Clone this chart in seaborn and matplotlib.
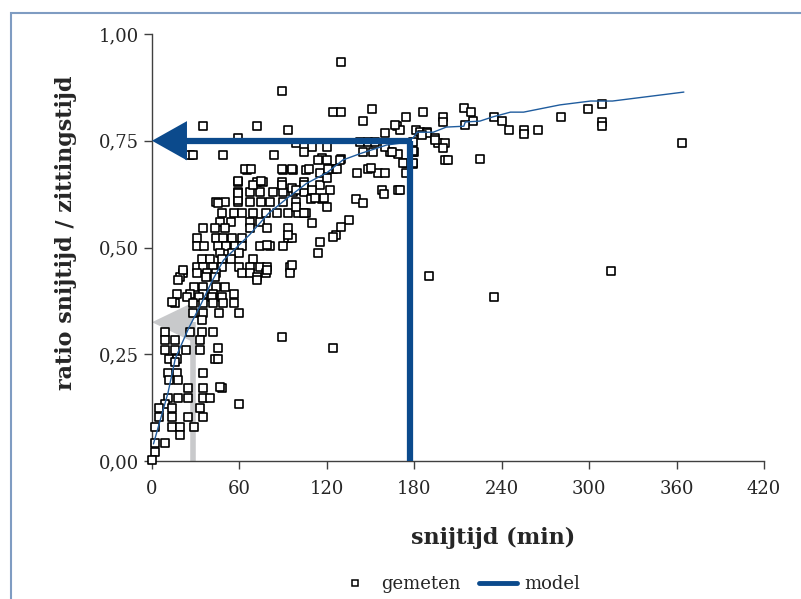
import numpy as np
import pandas as pd
import matplotlib.pyplot as plt
import seaborn as sns
from matplotlib.lines import Line2D
from matplotlib.patches import Rectangle

# measured points (snijtijd in min, ratio snijtijd / zittingstijd), read per row
rows = {
    0.681: [65, 90, 97, 106],
    0.653: [59, 72, 76, 89, 104],
    0.630: [59, 67, 74, 83, 90, 97, 104],
    0.607: [44, 50, 59, 67, 75, 81, 90, 99],
    0.580: [48, 56, 62, 69, 78, 86, 93, 100, 106],
    0.560: [47, 54, 67, 74],
    0.545: [35, 43, 50, 67, 79, 93],
    0.522: [31, 44, 49, 55, 62, 93, 96],
    0.504: [31, 36, 45, 51, 57, 62, 74, 81, 90],
    0.487: [47, 55, 60],
    0.473: [34, 40, 48, 54, 69],
    0.455: [31, 35, 42, 48, 60, 67, 74, 79, 95],
    0.440: [21, 31, 38, 44, 62, 67, 78, 95],
    0.430: [19, 37, 43, 72],
    0.408: [29, 35, 44, 50],
    0.390: [17, 26, 35, 42, 56],
    0.385: [24, 32, 41, 48],
    0.370: [16, 28, 35, 42, 49, 56],
    0.347: [28, 35, 46, 60],
    0.330: [34],
    0.302: [9, 26, 34, 42],
    0.283: [9, 16, 33],
    0.260: [9, 16, 23, 33],
    0.240: [12, 17, 43],
    0.232: [16],
    0.206: [11, 17, 35],
    0.190: [12, 18],
    0.170: [25, 35, 48],
    0.147: [11, 18, 25, 35, 40],
    0.133: [9, 60],
    0.124: [5, 14, 33],
    0.103: [5, 14, 25, 35],
    0.080: [2, 14, 19, 29],
    0.060: [19],
    0.042: [2, 9],
    0.021: [2],
    0.002: [0],
}

extra_t = [130, 89, 124, 130, 151, 35, 72, 93, 145, 174, 186, 59, 26, 28, 49, 84,
           99, 110, 104, 120, 117, 130, 143, 148, 153, 160, 168, 170, 145, 152, 163,
           169, 179, 64, 68, 89, 96, 108, 115, 124, 129, 141, 148, 155, 174, 174,
           59, 69, 75, 89, 96, 104, 115, 109, 117, 140, 158, 169, 45, 59, 59,
           14, 21, 18, 89, 124, 190, 235, 315, 364, 47, 45, 45, 72, 79, 96, 93,
           79, 110, 115, 114, 126,
           200, 200, 167, 181, 184, 189, 194, 196, 201, 200, 201, 160, 165, 180,
           114, 120, 179, 121, 127, 150, 160, 120, 99, 110, 122, 159, 112, 118,
           145, 120, 99, 104, 135, 130, 124,
           214, 219, 220, 215, 235, 240, 245, 255, 255, 265, 281, 299, 309, 309,
           309, 179, 179, 172, 179, 170, 203, 225, 189, 194, 185]
extra_r = [0.935, 0.867, 0.817, 0.817, 0.824, 0.785, 0.785, 0.775, 0.796, 0.806,
           0.817, 0.756, 0.717, 0.717, 0.717, 0.717, 0.745, 0.735, 0.724, 0.735,
           0.710, 0.707, 0.747, 0.747, 0.747, 0.768, 0.785, 0.775, 0.724, 0.724,
           0.724, 0.720, 0.724, 0.684, 0.684, 0.684, 0.684, 0.684, 0.674, 0.684,
           0.705, 0.674, 0.684, 0.674, 0.674, 0.698, 0.656, 0.646, 0.656, 0.646,
           0.640, 0.646, 0.646, 0.614, 0.614, 0.614, 0.635, 0.635, 0.604, 0.611,
           0.627, 0.372, 0.447, 0.424, 0.290, 0.265, 0.433, 0.384, 0.445, 0.745,
           0.173, 0.265, 0.240, 0.424, 0.447, 0.459, 0.530, 0.506, 0.557, 0.513,
           0.487, 0.530,
           0.806, 0.794, 0.787, 0.775, 0.770, 0.770, 0.756, 0.745, 0.745, 0.733,
           0.705, 0.735, 0.724, 0.724, 0.705, 0.705, 0.695, 0.684, 0.684, 0.686,
           0.674, 0.663, 0.635, 0.635, 0.635, 0.625, 0.616, 0.616, 0.604, 0.595,
           0.595, 0.580, 0.564, 0.548, 0.525,
           0.826, 0.817, 0.796, 0.787, 0.806, 0.796, 0.775, 0.775, 0.766, 0.775,
           0.806, 0.824, 0.836, 0.794, 0.785, 0.747, 0.726, 0.698, 0.698, 0.635,
           0.705, 0.707, 0.768, 0.752, 0.763]

snijtijd = [t for r, ts in rows.items() for t in ts] + extra_t
ratio = [r for r, ts in rows.items() for t in ts] + extra_r

# model curve
model_t = [1, 11, 16, 25, 34, 41, 49, 58, 67, 80, 93, 106, 120, 131, 143, 161,
           172, 179, 182, 193, 202, 214, 215, 225, 234, 246, 255, 280, 301, 316, 365]
model_r = [0.04, 0.16, 0.24, 0.31, 0.37, 0.42, 0.47, 0.50, 0.53, 0.58, 0.616,
           0.65, 0.675, 0.705, 0.72, 0.74, 0.745, 0.756, 0.77, 0.77, 0.782, 0.784,
           0.794, 0.796, 0.806, 0.817, 0.817, 0.834, 0.843, 0.843, 0.864]

# reading-off arrows
blue_t, blue_r = 177, 0.75
grey_t, grey_r = 28, 0.325

x_ticks = [0, 60, 120, 180, 240, 300, 360, 420]
y_ticks = [0, 0.25, 0.5, 0.75, 1.0]

blue = "#0B4A8C"
grey = "#C8C9CB"

sns.set_style("ticks")
plt.rcParams["font.family"] = ["DejaVu Serif"]

fig = plt.figure(figsize=(8.01, 5.99), dpi=100)
ax = fig.add_axes([152 / 801, 1 - 461 / 599, 612 / 801, 427 / 599])

fig.patches.append(Rectangle((11 / 801, -0.1), 1.2, 1.1 - 13 / 599,
                             transform=fig.transFigure, fill=False,
                             edgecolor="#7F9CC2", lw=1.5))

df = pd.DataFrame({"snijtijd": snijtijd, "ratio": ratio})
model = pd.DataFrame({"t": model_t, "r": model_r})

# grey arrow (below the points)
ax.plot([grey_t, grey_t], [0, grey_r], color=grey, lw=4, zorder=1, solid_capstyle="butt")
half_w = 0.046
ax.fill([0, grey_t, grey_t], [grey_r, grey_r + half_w, grey_r - half_w],
        color=grey, lw=0, zorder=1)

sns.scatterplot(data=df, x="snijtijd", y="ratio", ax=ax, marker="s", s=26,
                facecolor="white", edgecolor="black", linewidth=1.2,
                zorder=3, clip_on=False)
sns.lineplot(data=model, x="t", y="r", ax=ax, color="#1F5C9E", lw=1.0, zorder=4)

# blue arrow
ax.plot([blue_t, blue_t], [0, blue_r], color=blue, lw=4.5, zorder=5, solid_capstyle="butt")
ax.plot([22, blue_t + 1.5], [blue_r, blue_r], color=blue, lw=4.5, zorder=5,
        solid_capstyle="butt")
ax.fill([0, 24, 24], [blue_r, blue_r + 0.046, blue_r - 0.046], color=blue, lw=0, zorder=5)

ax.set_xlim(0, 420)
ax.set_ylim(0, 1)
ax.set_xticks(x_ticks)
ax.set_yticks(y_ticks)
ax.set_yticklabels([f"{v:.2f}".replace(".", ",") for v in y_ticks])
ax.tick_params(labelsize=13, length=6, width=1, color="#404040", labelcolor="#262626")
ax.tick_params(axis="x", pad=8)
for side in ["left", "bottom"]:
    ax.spines[side].set_color("#404040")
    ax.spines[side].set_linewidth(1)
sns.despine(ax=ax)

ax.set_xlabel("snijtijd (min)", fontsize=16, fontweight="bold")
ax.set_ylabel("ratio snijtijd / zittingstijd", fontsize=16, fontweight="bold")
ax.xaxis.set_label_coords(0.558, -0.155)
ax.yaxis.set_label_coords(-0.1225, 0.534)

handles = [
    Line2D([], [], marker="s", ls="", markersize=4.5, markerfacecolor="white",
           markeredgecolor="black", markeredgewidth=1.1),
    Line2D([], [], color=blue, lw=3.5),
]
fig.legend(handles, ["gemeten", "model"], loc="center", bbox_to_anchor=(458 / 801, 1 - 584 / 599),
           ncol=2, frameon=False, fontsize=13, handlelength=2.1, columnspacing=1.0,
           handletextpad=0.4)

fig.savefig("out.png", dpi=100)
